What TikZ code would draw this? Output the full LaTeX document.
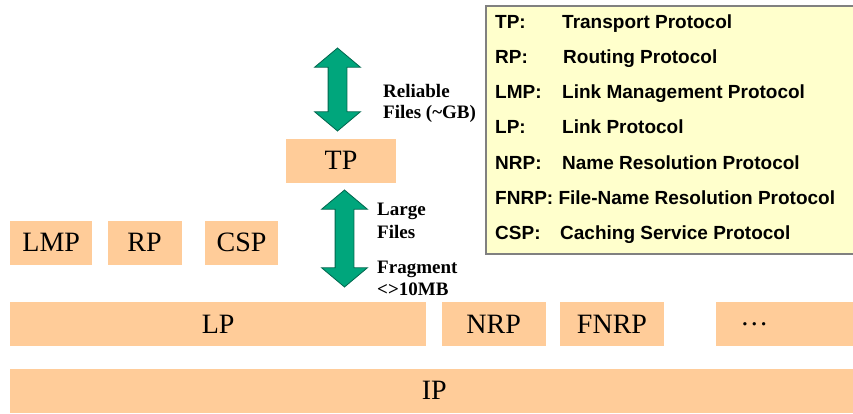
\documentclass[tikz,border=0pt]{standalone}
\usepackage{fontspec}
\setmainfont{Liberation Serif}
\newfontfamily\legendfont{Liberation Sans}
\usetikzlibrary{positioning,shapes.arrows}

\definecolor{boxpeach}{HTML}{FFCC99}
\definecolor{legendyellow}{HTML}{FFFFCC}
\definecolor{legendedge}{HTML}{808080}
\definecolor{arrowgreen}{HTML}{00A67C}
\definecolor{arrowedge}{HTML}{00664D}

\tikzset{
  layer/.style={fill=boxpeach, minimum height=44pt, inner sep=0pt, font=\fontsize{28}{30}\selectfont},
  flow/.style={double arrow, draw=arrowedge, fill=arrowgreen, line width=0.8pt, rotate=90,
    minimum width=45pt, double arrow head extend=13.5pt, double arrow tip angle=100,
    inner xsep=0pt, inner ysep=9pt},
  note/.style={anchor=base west, inner sep=0pt, font=\fontsize{19}{23}\selectfont\bfseries},
  key/.style={anchor=base west, inner sep=0pt, font=\legendfont\fontsize{19}{23}\selectfont\bfseries}
}

\begin{document}
\begin{tikzpicture}[x=1pt, y=-1pt]
\useasboundingbox (0,0) rectangle (853,413);
\clip (0,0) rectangle (853,413);

% legend
\node (legend) [anchor=north west, draw=legendedge, line width=1.5pt, fill=legendyellow,
  minimum width=385pt, minimum height=248pt] at (485,5) {};
\node (tpkey)   [key] at (495,28.3)  {TP:};
\node (tpdesc)  [key] at (562,28.3)  {Transport Protocol};
\node (rpkey)   [key] at (495,63.5)  {RP:};
\node (rpdesc)  [key] at (563,63.5)  {Routing Protocol};
\node (lmpkey)  [key] at (495,98.7)  {LMP:};
\node (lmpdesc) [key] at (562,98.7)  {Link Management Protocol};
\node (lpkey)   [key] at (495,133.9) {LP:};
\node (lpdesc)  [key] at (562,133.9) {Link Protocol};
\node (nrpkey)  [key] at (495,169.1) {NRP:};
\node (nrpdesc) [key] at (562,169.1) {Name Resolution Protocol};
\node (fnrpkey) [key] at (495,204.3) {FNRP: File-Name Resolution Protocol};
\node (cspkey)  [key] at (495,239.5) {CSP:};
\node (cspdesc) [key] at (560,239.5) {Caching Service Protocol};

% layers
\node (tp)   [layer, minimum width=110pt] at (341,160.5) {TP};
\node (lmp)  [layer, minimum width=82pt, anchor=west] at (10,242.5) {LMP};
\node (rp)   [layer, minimum width=74pt, right=15pt of lmp] {RP};
\node (csp)  [layer, minimum width=73pt, right=23pt of rp] {CSP};
\node (lp)   [layer, minimum width=416pt, anchor=west] at (10,324) {LP};
\node (nrp)  [layer, minimum width=104pt, right=15pt of lp] {NRP};
\node (fnrp) [layer, minimum width=104pt, right=14pt of nrp] {FNRP};
\node (more) [layer, text width=90pt, inner xsep=24pt, right=52pt of fnrp] {…};
\node (ip)   [layer, minimum width=848pt, anchor=west] at (10,390.5) {IP};

% data flows
\node (reliablearrow) [flow, minimum height=83pt] at (337.5,89.5) {};
\node (largearrow)    [flow, minimum height=97pt] at (344.5,238.5) {};
\node (reliable) [note] at (383,97)  {Reliable};
\node (gb)       [note] at (383,118) {Files (\textasciitilde GB)};
\node (large)    [note] at (377,215) {Large};
\node (files)    [note] at (377,238) {Files};
\node (fragment) [note] at (377,273) {Fragment};
\node (size)     [note] at (377,295) {<>10MB};
\end{tikzpicture}
\end{document}
